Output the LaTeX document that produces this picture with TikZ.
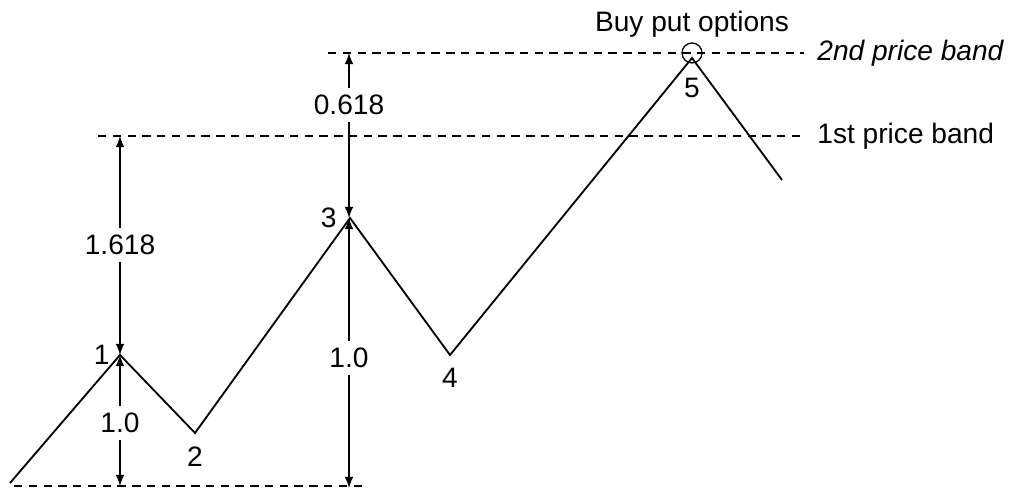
\documentclass[tikz,border=0pt]{standalone}
\usepackage{fontspec}
\setmainfont{Liberation Sans}
\usetikzlibrary{arrows.meta, positioning}

\tikzset{
  swing/.style={line width=1.3pt, line join=miter},
  band/.style={line width=0.8pt, dash pattern=on 6pt off 4.5pt},
  dimarrow/.style={line width=0.9pt, -{Latex[length=2.8mm,width=2.2mm]}},
  dimlabel/.style={inner sep=5pt}
}

\begin{document}
\begin{tikzpicture}[every node/.style={font=\fontsize{20}{23}\selectfont}]
  \useasboundingbox (0,0) rectangle (25.25,12.25);
  % ---------- price swings ----------
  \coordinate (p0) at (0.25,0.175);
  \coordinate (p1) at (3.0,3.375);
  \coordinate (p2) at (4.875,1.425);
  \coordinate (p3) at (8.75,6.8);
  \coordinate (p4) at (11.25,3.375);
  \coordinate (p5) at (17.3,10.8);
  \coordinate (p6) at (19.55,7.75);
  \draw[swing] (p0)--(p1)--(p2)--(p3)--(p4)--(p5)--(p6);
  \node[left=4pt] (n1) at (p1) {1};
  \node[below=6pt] (n2) at (p2) {2};
  \node[left=6pt] (n3) at (p3) {3};
  \node[below=6pt] (n4) at (p4) {4};
  \node[below=11pt] (n5) at (p5) {5};
  % ---------- bands ----------
  \coordinate (base0) at (0.35,0.1);
  \coordinate (base1) at (9.1,0.1);
  \coordinate (bandA0) at (2.45,8.85);
  \coordinate (bandA1) at (20.1,8.85);
  \coordinate (bandB0) at (8.2,10.925);
  \coordinate (bandB1) at (20.1,10.925);
  \draw[band] (base0) -- (base1);
  \draw[band] (bandA0) -- (bandA1);
  \draw[band] (bandB0) -- (bandB1);
  \node[right=6pt] (lblA) at (bandA1) {1st price band};
  \node[right=6pt] (lblB) at (bandB1) {\itshape 2nd price band};
  % ---------- put signal ----------
  \node[draw, circle, line width=0.9pt, minimum size=0.5cm, inner sep=0pt] (sig) at (17.3,10.925) {};
  \node[above=0pt] (buy) at (sig.north) {Buy put options};
  % ---------- ratios ----------
  \coordinate (t1) at (3.0,8.85);
  \coordinate (b1) at (3.0,0.1);
  \coordinate (t3) at (8.725,10.925);
  \coordinate (b3) at (8.725,0.05);
  \node[dimlabel] (r1618) at (3.0,6.125) {1.618};
  \node[dimlabel] (r10a) at (3.0,1.675) {1.0};
  \node[dimlabel] (r0618) at (8.725,9.625) {0.618};
  \node[dimlabel] (r10b) at (8.725,3.3) {1.0};
  \draw[dimarrow] (r1618) -- (t1);
  \draw[dimarrow] (r1618) -- (p1);
  \draw[dimarrow] (r10a) -- (p1);
  \draw[dimarrow] (r10a) -- (b1);
  \draw[dimarrow] (r0618) -- (t3);
  \draw[dimarrow] (r0618) -- (8.725,6.8);
  \draw[dimarrow] (r10b) -- (8.725,6.8);
  \draw[dimarrow] (r10b) -- (b3);
\end{tikzpicture}
\end{document}
